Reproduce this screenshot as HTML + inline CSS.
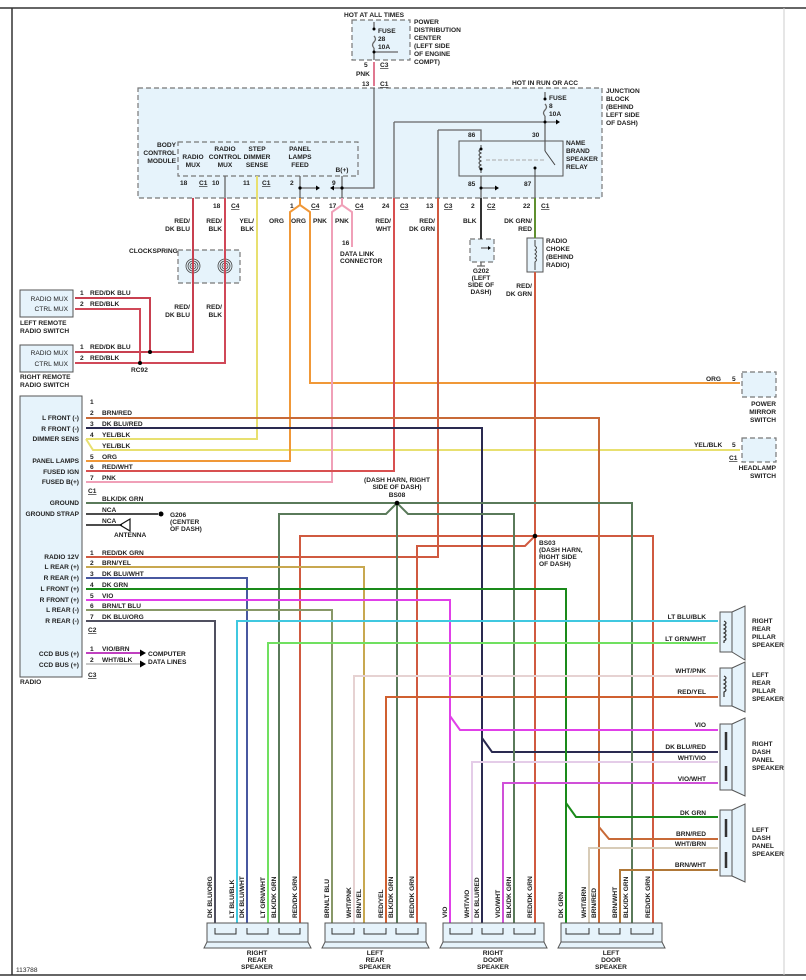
<!DOCTYPE html>
<html><head><meta charset="utf-8"><style>
html,body{margin:0;padding:0;background:#fff;width:806px;height:980px;overflow:hidden}
svg text{font-family:"Liberation Sans",sans-serif;font-size:6.6px;fill:#222;font-weight:bold}
.w{fill:none;stroke-width:2;stroke-linejoin:miter}
.g{fill:none;stroke:#666;stroke-width:1.3}
.box{fill:#e6f3fb;stroke:#777;stroke-width:1.2;stroke-dasharray:5,3}
.sb{fill:#e6f3fb;stroke:#555;stroke-width:1}
</style></head><body>
<svg width="806" height="980" viewBox="0 0 806 980" xmlns="http://www.w3.org/2000/svg">
<line x1="0" y1="8" x2="806" y2="8" stroke="#333" stroke-width="1.5"/>
<line x1="12" y1="8" x2="12" y2="975" stroke="#333" stroke-width="1.5"/>
<line x1="0" y1="975" x2="806" y2="975" stroke="#333" stroke-width="1.5"/>
<line x1="784" y1="8" x2="784" y2="975" stroke="#ccc" stroke-width="1"/>

<rect class="box" x="352" y="20" width="58" height="40"/>
<text x="344" y="17">HOT AT ALL TIMES</text>
<text x="414" y="24">POWER</text><text x="414" y="32">DISTRIBUTION</text><text x="414" y="40">CENTER</text><text x="414" y="48">(LEFT SIDE</text><text x="414" y="56">OF ENGINE</text><text x="414" y="64">COMPT)</text>
<path class="g" d="M374 22 V29 M374 36 q3 3 0 6 q-3 3 0 6 M374 48 V60 M374 52 H398"/>
<circle cx="374" cy="29" r="1.5"/><circle cx="374" cy="52" r="1.5"/>
<text x="378" y="33">FUSE</text><text x="378" y="41">28</text><text x="378" y="49">10A</text>
<path class="w" stroke="#e07890" d="M374 62 V86"/>
<text x="364" y="67">5</text><text x="380" y="67" text-decoration="underline">C3</text>
<text x="356" y="76">PNK</text>
<text x="362" y="86">13</text><text x="380" y="86" text-decoration="underline">C1</text>

<rect class="box" x="138" y="88" width="464" height="110"/>
<text x="512" y="85">HOT IN RUN OR ACC</text>
<text x="606" y="93">JUNCTION</text><text x="606" y="101">BLOCK</text><text x="606" y="109">(BEHIND</text><text x="606" y="117">LEFT SIDE</text><text x="606" y="125">OF DASH)</text>
<rect class="box" x="178" y="142" width="180" height="34"/>
<text x="176" y="147" text-anchor="end">BODY</text><text x="176" y="155" text-anchor="end">CONTROL</text><text x="176" y="163" text-anchor="end">MODULE</text>
<text x="193" y="159" text-anchor="middle">RADIO</text><text x="193" y="167" text-anchor="middle">MUX</text>
<text x="225" y="151" text-anchor="middle">RADIO</text><text x="225" y="159" text-anchor="middle">CONTROL</text><text x="225" y="167" text-anchor="middle">MUX</text>
<text x="257" y="151" text-anchor="middle">STEP</text><text x="257" y="159" text-anchor="middle">DIMMER</text><text x="257" y="167" text-anchor="middle">SENSE</text>
<text x="300" y="151" text-anchor="middle">PANEL</text><text x="300" y="159" text-anchor="middle">LAMPS</text><text x="300" y="167" text-anchor="middle">FEED</text>
<text x="342" y="172" text-anchor="middle">B(+)</text>
<path class="g" d="M374 88 V188 H342 V176 M342 188 H332 M342 188 V198 M300 176 V198 M300 188 H318 M225 176 V198"/>
<path d="M330 188 l4 -2.5 v5z M320 188 l-4 -2.5 v5z"/><circle cx="342" cy="188" r="1.6"/><circle cx="300" cy="188" r="1.6"/>
<text x="180" y="185">18</text><text x="199" y="185" text-decoration="underline">C1</text>
<text x="212" y="185">10</text><text x="243" y="185">11</text><text x="262" y="185" text-decoration="underline">C1</text>
<text x="290" y="185">2</text><text x="332" y="185">9</text>
<path class="g" d="M545 92 V99 M545 104 q3 3 0 6 q-3 3 0 6 M545 116 V141 M394 122 H558 M394 122 V198 M438 130 H481 V141 M438 130 V198 M481 176 V198 M481 188 H497 M535 176 V198 M545 141 V151"/>
<path d="M560 122 l-4 -2.5 v5z M499 188 l-4 -2.5 v5z"/>
<circle cx="545" cy="99" r="1.5"/><circle cx="545" cy="122" r="1.5"/><circle cx="481" cy="188" r="1.5"/>
<text x="549" y="100">FUSE</text><text x="549" y="108">8</text><text x="549" y="116">10A</text>
<rect x="459" y="141" width="104" height="35" fill="none" stroke="#555" stroke-width="1"/>
<path fill="none" stroke="#444" stroke-width="1" d="M481 145 V149 q-4 2 0 4 q-4 2 0 4 q-4 2 0 4 q-4 2 0 4 q-4 2 0 4 V173 M545 151 L555 165 M535 176 V168"/>
<path fill="none" stroke="#aaa" stroke-dasharray="4,2" d="M486 160 H545"/>
<circle cx="535" cy="168" r="1.5"/><circle cx="481" cy="149" r="1.5"/><circle cx="481" cy="169" r="1.5"/>
<text x="468" y="137">86</text><text x="532" y="137">30</text><text x="468" y="186">85</text><text x="524" y="186">87</text>
<text x="566" y="145">NAME</text><text x="566" y="153">BRAND</text><text x="566" y="161">SPEAKER</text><text x="566" y="169">RELAY</text>
<text x="213" y="208">18</text><text x="231" y="208" text-decoration="underline">C4</text>
<text x="290" y="208">1</text><text x="311" y="208" text-decoration="underline">C4</text>
<text x="329" y="208">17</text><text x="355" y="208" text-decoration="underline">C4</text>
<text x="382" y="208">24</text><text x="400" y="208" text-decoration="underline">C3</text>
<text x="426" y="208">13</text><text x="444" y="208" text-decoration="underline">C3</text>
<text x="471" y="208">2</text><text x="487" y="208" text-decoration="underline">C2</text>
<text x="523" y="208">22</text><text x="541" y="208" text-decoration="underline">C1</text>
<text x="190" y="223" text-anchor="end">RED/</text><text x="190" y="231" text-anchor="end">DK BLU</text>
<text x="222" y="223" text-anchor="end">RED/</text><text x="222" y="231" text-anchor="end">BLK</text>
<text x="254" y="223" text-anchor="end">YEL/</text><text x="254" y="231" text-anchor="end">BLK</text>
<text x="269" y="223">ORG</text><text x="291" y="223">ORG</text><text x="313" y="223">PNK</text><text x="335" y="223">PNK</text>
<text x="391" y="223" text-anchor="end">RED/</text><text x="391" y="231" text-anchor="end">WHT</text>
<text x="435" y="223" text-anchor="end">RED/</text><text x="435" y="231" text-anchor="end">DK GRN</text>
<text x="463" y="223">BLK</text>
<text x="532" y="223" text-anchor="end">DK GRN/</text><text x="532" y="231" text-anchor="end">RED</text>
<text x="342" y="245">16</text><text x="340" y="256">DATA LINK</text><text x="340" y="263">CONNECTOR</text>

<rect class="box" x="178" y="250" width="62" height="33"/>
<text x="129" y="253">CLOCKSPRING</text>
<g fill="none" stroke="#444" stroke-width="0.8"><circle cx="193" cy="266" r="7"/><circle cx="193" cy="266" r="5"/><circle cx="193" cy="266" r="3"/><circle cx="193" cy="266" r="1"/>
<circle cx="225" cy="266" r="7"/><circle cx="225" cy="266" r="5"/><circle cx="225" cy="266" r="3"/><circle cx="225" cy="266" r="1"/></g>
<text x="190" y="309" text-anchor="end">RED/</text><text x="190" y="317" text-anchor="end">DK BLU</text>
<text x="222" y="309" text-anchor="end">RED/</text><text x="222" y="317" text-anchor="end">BLK</text>

<rect class="box" x="470" y="239" width="24" height="23"/>
<path class="g" d="M481 248 H489 M481 262 V266 M477 266 H485"/><path d="M491 248 l-3 -2 v4z"/>
<text x="481" y="273" text-anchor="middle">G202</text><text x="481" y="280" text-anchor="middle">(LEFT</text><text x="481" y="287" text-anchor="middle">SIDE OF</text><text x="481" y="294" text-anchor="middle">DASH)</text>
<rect x="527" y="238" width="16" height="34" fill="#e6f3fb" stroke="#555"/>
<path fill="none" stroke="#444" stroke-width="1" d="M535 240 V246 q3 2 0 4 q3 2 0 4 q3 2 0 4 q3 2 0 4 V270"/>
<text x="546" y="243">RADIO</text><text x="546" y="251">CHOKE</text><text x="546" y="259">(BEHIND</text><text x="546" y="267">RADIO)</text>
<text x="532" y="288" text-anchor="end">RED/</text><text x="532" y="296" text-anchor="end">DK GRN</text>

<rect x="20" y="290" width="53" height="27" class="sb"/>
<text x="68" y="301" text-anchor="end" style="font-weight:normal">RADIO MUX</text><text x="68" y="311" text-anchor="end" style="font-weight:normal">CTRL MUX</text>
<text x="20" y="325">LEFT REMOTE</text><text x="20" y="333">RADIO SWITCH</text>
<rect x="20" y="345" width="53" height="27" class="sb"/>
<text x="68" y="355" text-anchor="end" style="font-weight:normal">RADIO MUX</text><text x="68" y="366" text-anchor="end" style="font-weight:normal">CTRL MUX</text>
<text x="20" y="379">RIGHT REMOTE</text><text x="20" y="387">RADIO SWITCH</text>
<text x="80" y="295">1</text><text x="90" y="295">RED/DK BLU</text><text x="80" y="306">2</text><text x="90" y="306">RED/BLK</text>
<text x="80" y="349">1</text><text x="90" y="349">RED/DK BLU</text><text x="80" y="360">2</text><text x="90" y="360">RED/BLK</text>
<text x="131" y="372">RC92</text>

<rect x="20" y="396" width="62" height="281" class="sb"/>
<text x="20" y="684">RADIO</text>
<g text-anchor="end" style="font-weight:normal">
<text x="79" y="420">L FRONT (-)</text><text x="79" y="431">R FRONT (-)</text><text x="79" y="441">DIMMER SENS</text>
<text x="79" y="463">PANEL LAMPS</text><text x="79" y="474">FUSED IGN</text><text x="79" y="484">FUSED B(+)</text>
<text x="79" y="505">GROUND</text><text x="79" y="516">GROUND STRAP</text>
<text x="79" y="559">RADIO 12V</text><text x="79" y="569">L REAR (+)</text><text x="79" y="580">R REAR (+)</text><text x="79" y="591">L FRONT (+)</text>
<text x="79" y="602">R FRONT (+)</text><text x="79" y="612">L REAR (-)</text><text x="79" y="623">R REAR (-)</text>
<text x="79" y="656">CCD BUS (+)</text><text x="79" y="667">CCD BUS (+)</text>
</g>
<g>
<text x="90" y="404">1</text>
<text x="90" y="415">2</text><text x="102" y="415">BRN/RED</text>
<text x="90" y="426">3</text><text x="102" y="426">DK BLU/RED</text>
<text x="90" y="437">4</text><text x="102" y="437">YEL/BLK</text>
<text x="102" y="448">YEL/BLK</text>
<text x="90" y="459">5</text><text x="102" y="459">ORG</text>
<text x="90" y="469">6</text><text x="102" y="469">RED/WHT</text>
<text x="90" y="480">7</text><text x="102" y="480">PNK</text>
<text x="88" y="493" text-decoration="underline">C1</text>
<text x="102" y="501">BLK/DK GRN</text><text x="102" y="512">NCA</text><text x="102" y="523">NCA</text>
<text x="90" y="555">1</text><text x="102" y="555">RED/DK GRN</text>
<text x="90" y="565">2</text><text x="102" y="565">BRN/YEL</text>
<text x="90" y="576">3</text><text x="102" y="576">DK BLU/WHT</text>
<text x="90" y="587">4</text><text x="102" y="587">DK GRN</text>
<text x="90" y="598">5</text><text x="102" y="598">VIO</text>
<text x="90" y="608">6</text><text x="102" y="608">BRN/LT BLU</text>
<text x="90" y="619">7</text><text x="102" y="619">DK BLU/ORG</text>
<text x="88" y="632" text-decoration="underline">C2</text>
<text x="90" y="651">1</text><text x="102" y="651">VIO/BRN</text>
<text x="90" y="662">2</text><text x="102" y="662">WHT/BLK</text>
<text x="88" y="677" text-decoration="underline">C3</text>
<text x="148" y="656">COMPUTER</text><text x="148" y="664">DATA LINES</text>
<text x="170" y="517">G206</text><text x="170" y="524">(CENTER</text><text x="170" y="531">OF DASH)</text>
<text x="114" y="537">ANTENNA</text>
</g>
<path d="M86 514 H158" stroke="#111" stroke-width="1.6"/><circle cx="161" cy="514" r="2.5"/>
<path d="M86 525 H122" stroke="#111" stroke-width="1.6"/><path d="M120 525 L130 519 V531 Z" fill="none" stroke="#111" stroke-width="1.2"/>

<g class="w">
<path stroke="#c84050" d="M193 198 V352 H75 M75 298 H150 V352"/>
<path stroke="#d04858" d="M225 198 V363 H75 M75 309 H140 V363"/>
<path stroke="#e8e070" d="M257 176 V439 H86 M86 439 L93 450 H740"/>
<path stroke="#f09838" d="M300 198 V205 L290 212 V461 H86 M300 205 L310 212 V383 H740"/>
<path stroke="#f0a0b8" d="M342 198 V205 L332 212 V482 H86 M342 205 L352 212 V247"/>
<path stroke="#d85050" d="M394 198 V471 H86"/>
<path stroke="#d05a40" d="M438 198 V557 H86"/>
<path stroke="#333" d="M481 198 V239"/>
<path stroke="#609030" d="M535 198 V238"/>
<path stroke="#d05a40" d="M535 272 V928 M535 536 H653 V928 M535 536 H300 V928 M535 536 L525 546 H417 V928"/>
<path stroke="#c86a38" d="M86 418 H599 V928 M599 827 L609 839 H718"/>
<path stroke="#2a2a50" d="M86 428 H482 V928 M482 738 L492 752 H718"/>
<path stroke="#5a7a5a" d="M86 503 H632 V928 M397 503 V928 M397 503 L386 514 H279 V928 M397 503 L408 514 H514 V928"/>
<path stroke="#c8a850" d="M86 567 H364 V928"/>
<path stroke="#4858a0" d="M86 578 H247 V928"/>
<path stroke="#1a8a1a" d="M86 589 H566 V928 M566 803 L576 817 H718"/>
<path stroke="#e040e8" d="M86 600 H450 V928 M450 716 L460 730 H718"/>
<path stroke="#889868" d="M86 610 H332 V928"/>
<path stroke="#505060" d="M86 621 H215 V928"/>
<path stroke="#40c8e0" d="M718 621 H237 V928"/>
<path stroke="#70e060" d="M718 643 H268 V928"/>
<path stroke="#e6d2d2" d="M718 676 H354 V928"/>
<path stroke="#d06030" d="M718 697 H386 V928"/>
<path stroke="#e4cce8" d="M718 762 H472 V928"/>
<path stroke="#d050d8" d="M718 783 H503 V928"/>
<path stroke="#d8ccb8" d="M718 848 H589 V928"/>
<path stroke="#b07838" d="M718 870 H620 V928"/>
<path stroke="#c040c0" d="M86 653 H140"/>
<path stroke="#c8c8c8" d="M86 664 H140"/>
</g>
<path d="M146 653 l-6 -3.5 v7z M146 664 l-6 -3.5 v7z"/>
<circle cx="150" cy="352" r="2"/><circle cx="140" cy="363" r="2"/>
<circle cx="397" cy="503" r="2.3"/><circle cx="535" cy="536" r="2.3"/>
<text x="397" y="482" text-anchor="middle">(DASH HARN, RIGHT</text><text x="397" y="489" text-anchor="middle">SIDE OF DASH)</text><text x="397" y="497" text-anchor="middle">BS08</text>
<text x="539" y="545">BS03</text><text x="539" y="552">(DASH HARN,</text><text x="539" y="559">RIGHT SIDE</text><text x="539" y="566">OF DASH)</text>

<rect class="box" x="742" y="372" width="34" height="25"/>
<text x="706" y="381">ORG</text><text x="732" y="381">5</text>
<text x="776" y="406" text-anchor="end">POWER</text><text x="776" y="414" text-anchor="end">MIRROR</text><text x="776" y="422" text-anchor="end">SWITCH</text>
<rect class="box" x="742" y="438" width="34" height="24"/>
<text x="694" y="447">YEL/BLK</text><text x="732" y="447">5</text><text x="729" y="460" text-decoration="underline">C1</text>
<text x="776" y="470" text-anchor="end">HEADLAMP</text><text x="776" y="478" text-anchor="end">SWITCH</text>

<g class="sb">
<rect x="720" y="612" width="12" height="40"/><polygon points="732,612 745,606 745,660 732,652"/>
<rect x="720" y="668" width="12" height="38"/><polygon points="732,668 745,662 745,712 732,706"/>
<rect x="720" y="724" width="12" height="66"/><polygon points="732,724 745,718 745,796 732,790"/>
<rect x="720" y="810" width="12" height="66"/><polygon points="732,810 745,804 745,882 732,876"/>
</g>
<g fill="none" stroke="#333" stroke-width="1.2">
<path d="M724 621 q4 2 0 4 q4 2 0 4 q4 2 0 4 q4 2 0 4 q4 2 0 4 V643"/>
<path d="M724 676 q4 2 0 4 q4 2 0 4 q4 2 0 4 q4 2 0 4 V697"/>
<path d="M726 732 V750 M726 766 V781 M726 819 V837 M726 852 V868" stroke-width="2.5"/>
</g>
<g text-anchor="end">
<text x="706" y="619">LT BLU/BLK</text><text x="706" y="641">LT GRN/WHT</text>
<text x="706" y="673">WHT/PNK</text><text x="706" y="694">RED/YEL</text>
<text x="706" y="727">VIO</text><text x="706" y="749">DK BLU/RED</text><text x="706" y="760">WHT/VIO</text><text x="706" y="781">VIO/WHT</text>
<text x="706" y="815">DK GRN</text><text x="706" y="836">BRN/RED</text><text x="706" y="846">WHT/BRN</text><text x="706" y="867">BRN/WHT</text>
</g>
<text x="752" y="623">RIGHT</text><text x="752" y="631">REAR</text><text x="752" y="639">PILLAR</text><text x="752" y="647">SPEAKER</text>
<text x="752" y="677">LEFT</text><text x="752" y="685">REAR</text><text x="752" y="693">PILLAR</text><text x="752" y="701">SPEAKER</text>
<text x="752" y="746">RIGHT</text><text x="752" y="754">DASH</text><text x="752" y="762">PANEL</text><text x="752" y="770">SPEAKER</text>
<text x="752" y="832">LEFT</text><text x="752" y="840">DASH</text><text x="752" y="848">PANEL</text><text x="752" y="856">SPEAKER</text>

<g class="sb">
<rect x="207" y="923" width="101" height="19"/><polygon points="207,942 308,942 311,948 204,948"/>
<rect x="325" y="923" width="101" height="19"/><polygon points="325,942 426,942 429,948 322,948"/>
<rect x="443" y="923" width="101" height="19"/><polygon points="443,942 544,942 547,948 440,948"/>
<rect x="561" y="923" width="101" height="19"/><polygon points="561,942 662,942 665,948 558,948"/>
</g>
<g fill="none" stroke="#333" stroke-width="1">
<path d="M215 928 v6 h21 v-6 M247 928 v6 h21 v-6 M279 928 v6 h21 v-6"/>
<path d="M332 928 v6 h22 v-6 M364 928 v6 h22 v-6 M396 928 v6 h22 v-6"/>
<path d="M450 928 v6 h22 v-6 M482 928 v6 h21 v-6 M514 928 v6 h21 v-6"/>
<path d="M566 928 v6 h23 v-6 M599 928 v6 h21 v-6 M631 928 v6 h22 v-6"/>
</g>
<g text-anchor="middle">
<text x="257" y="955">RIGHT</text><text x="257" y="962">REAR</text><text x="257" y="969">SPEAKER</text>
<text x="375" y="955">LEFT</text><text x="375" y="962">REAR</text><text x="375" y="969">SPEAKER</text>
<text x="493" y="955">RIGHT</text><text x="493" y="962">DOOR</text><text x="493" y="969">SPEAKER</text>
<text x="611" y="955">LEFT</text><text x="611" y="962">DOOR</text><text x="611" y="969">SPEAKER</text>
</g>
<text x="16" y="972" style="font-weight:normal">113788</text>
<g>
<text transform="translate(212,918) rotate(-90)">DK BLU/ORG</text>
<text transform="translate(234,918) rotate(-90)">LT BLU/BLK</text>
<text transform="translate(244,918) rotate(-90)">DK BLU/WHT</text>
<text transform="translate(265,918) rotate(-90)">LT GRN/WHT</text>
<text transform="translate(276,918) rotate(-90)">BLK/DK GRN</text>
<text transform="translate(297,918) rotate(-90)">RED/DK GRN</text>
<text transform="translate(329,918) rotate(-90)">BRN/LT BLU</text>
<text transform="translate(351,918) rotate(-90)">WHT/PNK</text>
<text transform="translate(361,918) rotate(-90)">BRN/YEL</text>
<text transform="translate(383,918) rotate(-90)">RED/YEL</text>
<text transform="translate(393,918) rotate(-90)">BLK/DK GRN</text>
<text transform="translate(414,918) rotate(-90)">RED/DK GRN</text>
<text transform="translate(447,918) rotate(-90)">VIO</text>
<text transform="translate(469,918) rotate(-90)">WHT/VIO</text>
<text transform="translate(479,918) rotate(-90)">DK BLU/RED</text>
<text transform="translate(500,918) rotate(-90)">VIO/WHT</text>
<text transform="translate(511,918) rotate(-90)">BLK/DK GRN</text>
<text transform="translate(532,918) rotate(-90)">RED/DK GRN</text>
<text transform="translate(563,918) rotate(-90)">DK GRN</text>
<text transform="translate(586,918) rotate(-90)">WHT/BRN</text>
<text transform="translate(596,918) rotate(-90)">BRN/RED</text>
<text transform="translate(617,918) rotate(-90)">BRN/WHT</text>
<text transform="translate(628,918) rotate(-90)">BLK/DK GRN</text>
<text transform="translate(650,918) rotate(-90)">RED/DK GRN</text>
</g>
</svg>
</body></html>
